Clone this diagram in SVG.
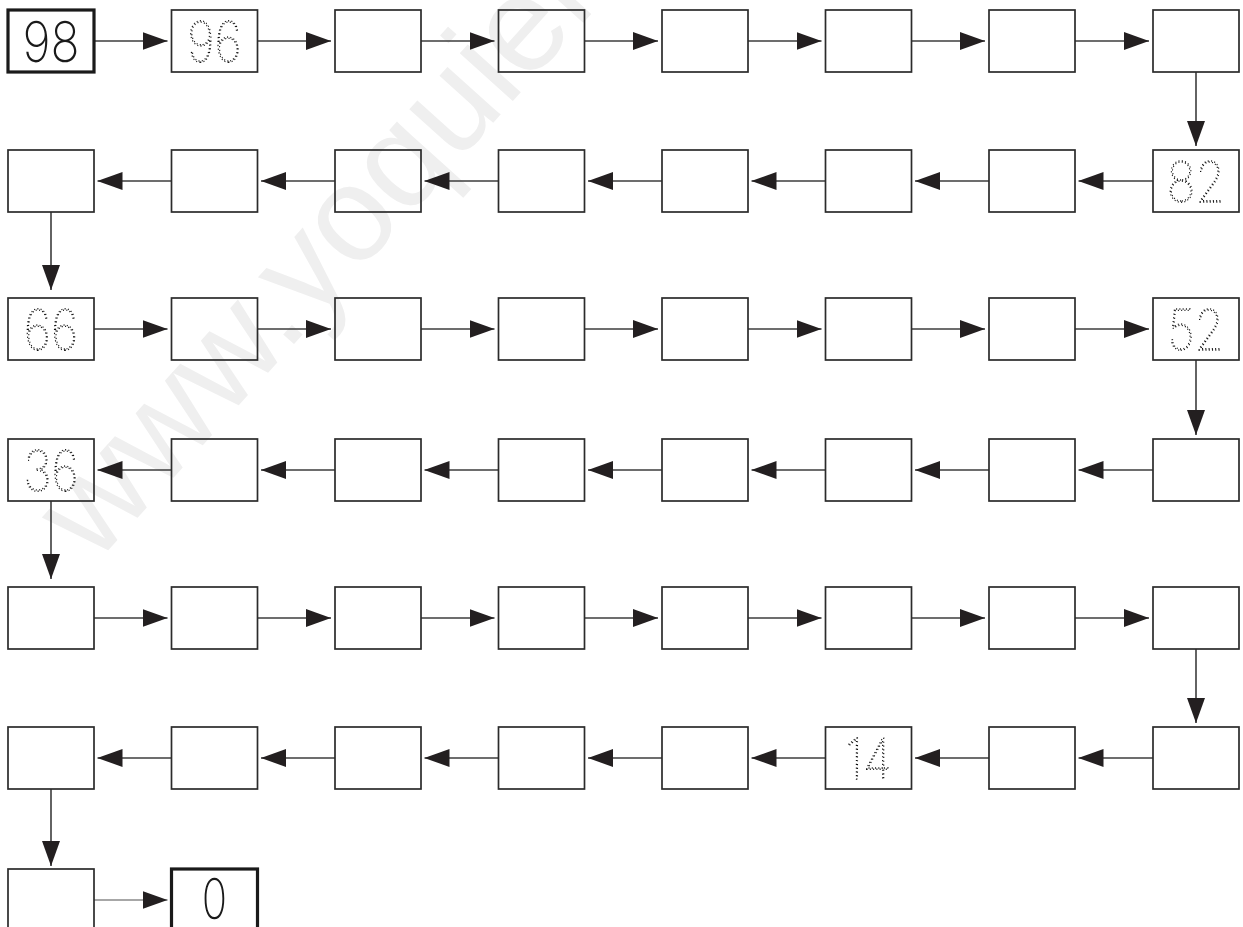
<svg xmlns="http://www.w3.org/2000/svg" width="1243" height="927" viewBox="0 0 1243 927">
<style>
.bg{fill:#fff}
.wm{fill:#efefef;font-family:"Liberation Sans",Arial,sans-serif;font-size:135px}
.box{fill:none;stroke:#2b2b2b;stroke-width:1.7}
.bold{fill:none;stroke:#1a1a1a;stroke-width:3.2}
.conn{fill:none;stroke:#3d3d3d;stroke-width:1.6;marker-end:url(#ah)}
.thin{stroke:#8a8a8a;stroke-width:1.3}
.dig{font-family:"Inter","DejaVu Sans",sans-serif;font-size:56px;text-anchor:middle}
.solid{fill:#1a1a1a;font-weight:200}
.dot{fill:none;stroke:#111;stroke-width:1.3;stroke-dasharray:1.2 2.6;font-weight:100}
</style>
<defs>
<marker id="ah" markerWidth="25" markerHeight="18" refX="25" refY="9" orient="auto" markerUnits="userSpaceOnUse">
<path d="M0,0L25,9L0,18z" fill="#231f20"/>
</marker>
</defs>
<rect class="bg" x="0" y="0" width="1243" height="927"/>
<text class="wm" transform="translate(95,565) rotate(-48)">www.yoquieroaprobar.es</text>

<g id="connectors">
<line class="conn" x1="94" y1="41" x2="167.5" y2="41"/>
<line class="conn" x1="257.5" y1="41" x2="331" y2="41"/>
<line class="conn" x1="421" y1="41" x2="494.5" y2="41"/>
<line class="conn" x1="584.5" y1="41" x2="658" y2="41"/>
<line class="conn" x1="748" y1="41" x2="821.5" y2="41"/>
<line class="conn" x1="911.5" y1="41" x2="985" y2="41"/>
<line class="conn" x1="1075" y1="41" x2="1149" y2="41"/>
<line class="conn" x1="1196" y1="72" x2="1196" y2="146"/>
<line class="conn" x1="1153" y1="181" x2="1078.5" y2="181"/>
<line class="conn" x1="989" y1="181" x2="915" y2="181"/>
<line class="conn" x1="825.5" y1="181" x2="751.5" y2="181"/>
<line class="conn" x1="662" y1="181" x2="588" y2="181"/>
<line class="conn" x1="498.5" y1="181" x2="424.5" y2="181"/>
<line class="conn" x1="335" y1="181" x2="261" y2="181"/>
<line class="conn" x1="171.5" y1="181" x2="97.5" y2="181"/>
<line class="conn" x1="51" y1="212" x2="51" y2="290"/>
<line class="conn" x1="94" y1="329" x2="167.5" y2="329"/>
<line class="conn" x1="257.5" y1="329" x2="331" y2="329"/>
<line class="conn" x1="421" y1="329" x2="494.5" y2="329"/>
<line class="conn" x1="584.5" y1="329" x2="658" y2="329"/>
<line class="conn" x1="748" y1="329" x2="821.5" y2="329"/>
<line class="conn" x1="911.5" y1="329" x2="985" y2="329"/>
<line class="conn" x1="1075" y1="329" x2="1149" y2="329"/>
<line class="conn" x1="1196" y1="360" x2="1196" y2="435"/>
<line class="conn" x1="1153" y1="470" x2="1078.5" y2="470"/>
<line class="conn" x1="989" y1="470" x2="915" y2="470"/>
<line class="conn" x1="825.5" y1="470" x2="751.5" y2="470"/>
<line class="conn" x1="662" y1="470" x2="588" y2="470"/>
<line class="conn" x1="498.5" y1="470" x2="424.5" y2="470"/>
<line class="conn" x1="335" y1="470" x2="261" y2="470"/>
<line class="conn" x1="171.5" y1="470" x2="97.5" y2="470"/>
<line class="conn" x1="51" y1="501" x2="51" y2="579"/>
<line class="conn" x1="94" y1="618" x2="167.5" y2="618"/>
<line class="conn" x1="257.5" y1="618" x2="331" y2="618"/>
<line class="conn" x1="421" y1="618" x2="494.5" y2="618"/>
<line class="conn" x1="584.5" y1="618" x2="658" y2="618"/>
<line class="conn" x1="748" y1="618" x2="821.5" y2="618"/>
<line class="conn" x1="911.5" y1="618" x2="985" y2="618"/>
<line class="conn" x1="1075" y1="618" x2="1149" y2="618"/>
<line class="conn" x1="1196" y1="649" x2="1196" y2="723"/>
<line class="conn" x1="1153" y1="758" x2="1078.5" y2="758"/>
<line class="conn" x1="989" y1="758" x2="915" y2="758"/>
<line class="conn" x1="825.5" y1="758" x2="751.5" y2="758"/>
<line class="conn" x1="662" y1="758" x2="588" y2="758"/>
<line class="conn" x1="498.5" y1="758" x2="424.5" y2="758"/>
<line class="conn" x1="335" y1="758" x2="261" y2="758"/>
<line class="conn" x1="171.5" y1="758" x2="97.5" y2="758"/>
<line class="conn" x1="51" y1="789" x2="51" y2="866"/>
<line class="conn thin" x1="94" y1="900" x2="167.5" y2="900"/>
</g>

<g id="n1-1"><rect class="bold" x="8" y="10" width="86" height="62"/><text class="dig solid" transform="translate(51,62) scale(0.86,1)">98</text></g>
<g id="n1-2"><rect class="box" x="171.5" y="10" width="86" height="62"/><text class="dig dot" transform="translate(214.5,62) scale(0.86,1)">96</text></g>
<g id="n1-3"><rect class="box" x="335" y="10" width="86" height="62"/></g>
<g id="n1-4"><rect class="box" x="498.5" y="10" width="86" height="62"/></g>
<g id="n1-5"><rect class="box" x="662" y="10" width="86" height="62"/></g>
<g id="n1-6"><rect class="box" x="825.5" y="10" width="86" height="62"/></g>
<g id="n1-7"><rect class="box" x="989" y="10" width="86" height="62"/></g>
<g id="n1-8"><rect class="box" x="1153" y="10" width="86" height="62"/></g>
<g id="n2-1"><rect class="box" x="8" y="150" width="86" height="62"/></g>
<g id="n2-2"><rect class="box" x="171.5" y="150" width="86" height="62"/></g>
<g id="n2-3"><rect class="box" x="335" y="150" width="86" height="62"/></g>
<g id="n2-4"><rect class="box" x="498.5" y="150" width="86" height="62"/></g>
<g id="n2-5"><rect class="box" x="662" y="150" width="86" height="62"/></g>
<g id="n2-6"><rect class="box" x="825.5" y="150" width="86" height="62"/></g>
<g id="n2-7"><rect class="box" x="989" y="150" width="86" height="62"/></g>
<g id="n2-8"><rect class="box" x="1153" y="150" width="86" height="62"/><text class="dig dot" transform="translate(1196,202) scale(0.86,1)">82</text></g>
<g id="n3-1"><rect class="box" x="8" y="298" width="86" height="62"/><text class="dig dot" transform="translate(51,350) scale(0.86,1)">66</text></g>
<g id="n3-2"><rect class="box" x="171.5" y="298" width="86" height="62"/></g>
<g id="n3-3"><rect class="box" x="335" y="298" width="86" height="62"/></g>
<g id="n3-4"><rect class="box" x="498.5" y="298" width="86" height="62"/></g>
<g id="n3-5"><rect class="box" x="662" y="298" width="86" height="62"/></g>
<g id="n3-6"><rect class="box" x="825.5" y="298" width="86" height="62"/></g>
<g id="n3-7"><rect class="box" x="989" y="298" width="86" height="62"/></g>
<g id="n3-8"><rect class="box" x="1153" y="298" width="86" height="62"/><text class="dig dot" transform="translate(1196,350) scale(0.86,1)">52</text></g>
<g id="n4-1"><rect class="box" x="8" y="439" width="86" height="62"/><text class="dig dot" transform="translate(51,491) scale(0.86,1)">36</text></g>
<g id="n4-2"><rect class="box" x="171.5" y="439" width="86" height="62"/></g>
<g id="n4-3"><rect class="box" x="335" y="439" width="86" height="62"/></g>
<g id="n4-4"><rect class="box" x="498.5" y="439" width="86" height="62"/></g>
<g id="n4-5"><rect class="box" x="662" y="439" width="86" height="62"/></g>
<g id="n4-6"><rect class="box" x="825.5" y="439" width="86" height="62"/></g>
<g id="n4-7"><rect class="box" x="989" y="439" width="86" height="62"/></g>
<g id="n4-8"><rect class="box" x="1153" y="439" width="86" height="62"/></g>
<g id="n5-1"><rect class="box" x="8" y="587" width="86" height="62"/></g>
<g id="n5-2"><rect class="box" x="171.5" y="587" width="86" height="62"/></g>
<g id="n5-3"><rect class="box" x="335" y="587" width="86" height="62"/></g>
<g id="n5-4"><rect class="box" x="498.5" y="587" width="86" height="62"/></g>
<g id="n5-5"><rect class="box" x="662" y="587" width="86" height="62"/></g>
<g id="n5-6"><rect class="box" x="825.5" y="587" width="86" height="62"/></g>
<g id="n5-7"><rect class="box" x="989" y="587" width="86" height="62"/></g>
<g id="n5-8"><rect class="box" x="1153" y="587" width="86" height="62"/></g>
<g id="n6-1"><rect class="box" x="8" y="727" width="86" height="62"/></g>
<g id="n6-2"><rect class="box" x="171.5" y="727" width="86" height="62"/></g>
<g id="n6-3"><rect class="box" x="335" y="727" width="86" height="62"/></g>
<g id="n6-4"><rect class="box" x="498.5" y="727" width="86" height="62"/></g>
<g id="n6-5"><rect class="box" x="662" y="727" width="86" height="62"/></g>
<g id="n6-6"><rect class="box" x="825.5" y="727" width="86" height="62"/><text class="dig dot" transform="translate(868.5,779) scale(0.86,1)">14</text></g>
<g id="n6-7"><rect class="box" x="989" y="727" width="86" height="62"/></g>
<g id="n6-8"><rect class="box" x="1153" y="727" width="86" height="62"/></g>
<g id="n7-1"><rect class="box" x="8" y="869" width="86" height="62"/></g>
<g id="n7-2"><rect class="bold" x="171.5" y="869" width="86" height="62"/><text class="dig solid" transform="translate(214.5,919) scale(0.75,1)">0</text></g>
</svg>
